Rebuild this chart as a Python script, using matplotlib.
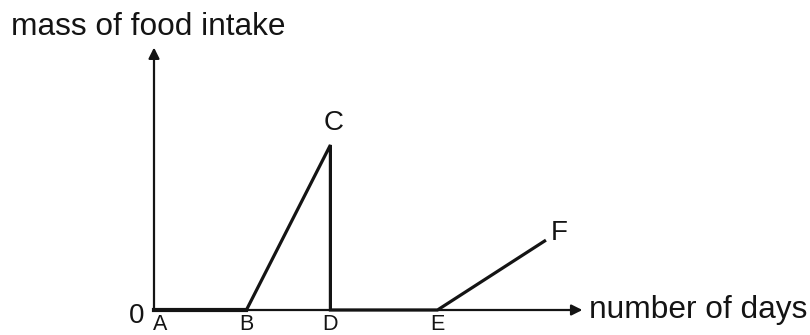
import matplotlib
matplotlib.use("Agg")
import matplotlib.pyplot as plt

plt.rcParams['font.family'] = ['Liberation Sans', 'DejaVu Sans']

# points of the curve (days, mass) - arbitrary units
labels = ["A", "B", "C", "D", "E", "F"]
days = [0, 2.2, 4.2, 4.2, 6.75, 9.3]
mass = [0, 0, 5.5, 0, 0, 2.3]

x_label = "number of days"
y_label = "mass of food intake"

ink = "#141414"

fig = plt.figure(figsize=(8.1, 3.35), dpi=100)
ax = fig.add_axes([0, 0, 1, 1])
ax.set_xlim(-154 / 42, (810 - 154) / 42)
ax.set_ylim(-25 / 30, 310 / 30)
ax.axis("off")

# axes with arrow heads
ax.annotate("", xy=(10.2, 0), xytext=(0, 0),
            arrowprops=dict(arrowstyle="-|>", color=ink, lw=1.6,
                            mutation_scale=16, shrinkA=0, shrinkB=0))
ax.annotate("", xy=(0, 8.75), xytext=(0, 0),
            arrowprops=dict(arrowstyle="-|>", color=ink, lw=1.6,
                            mutation_scale=16, shrinkA=0, shrinkB=0))

# the curve A-B-C-D-E-F
ax.plot(days[:2], mass[:2], color=ink, lw=3.0)
ax.plot(days, mass, color=ink, lw=2.3, solid_joinstyle="miter")

# axis titles
ax.text(10.35, 0, x_label, fontsize=22.8, color=ink, ha="left", va="center")
ax.text(-3.4, 9.42, y_label, fontsize=22.8, color=ink, ha="left", va="center")
ax.text(-0.42, -0.2, "0", fontsize=20, color=ink, ha="center", va="center")

# point labels under the axis (kept inside the bottom edge)
below = dict(fontsize=15.5, color=ink, ha="center", va="baseline")
ax.text(days[0] + 0.15, -0.67, labels[0], **below)
ax.text(days[1], -0.67, labels[1], **below)
ax.text(days[3], -0.67, labels[3], **below)
ax.text(days[4], -0.67, labels[4], **below)

# point labels above the curve
ax.text(days[2] + 0.07, mass[2] + 0.75, labels[2], fontsize=20, color=ink, ha="center", va="center")
ax.text(days[5] + 0.35, mass[5] + 0.25, labels[5], fontsize=20, color=ink, ha="center", va="center")

fig.savefig("out.png", dpi=100)
